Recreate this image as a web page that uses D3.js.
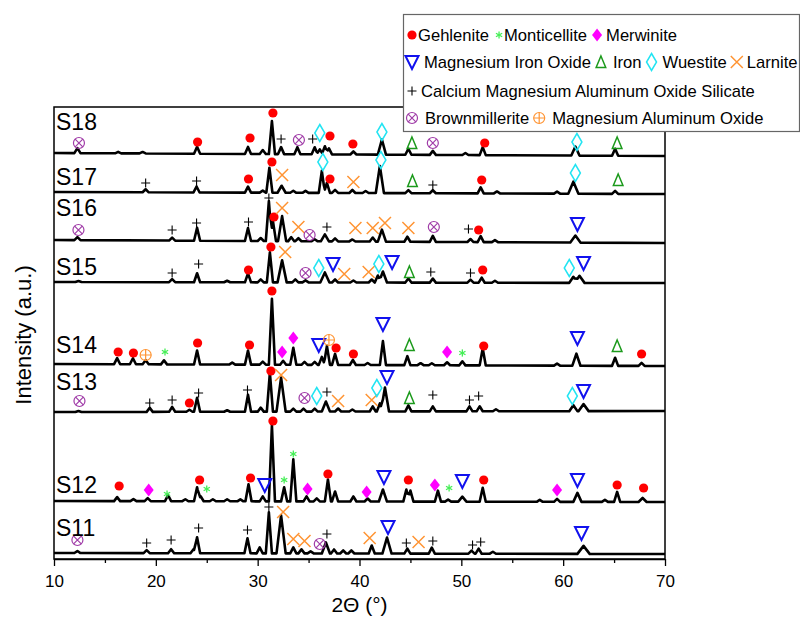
<!DOCTYPE html>
<html>
<head>
<meta charset="utf-8">
<script src="https://cdn.jsdelivr.net/npm/d3@7"></script>
<style>
body { margin: 0; background: #fff; }
svg text { font-family: "Liberation Sans", Arial, sans-serif; fill: #000; }
</style>
</head>
<body>
<svg id="chart" width="800" height="617"></svg>
<script>
// samples, bottom to top
const samples = ['S11', 'S12', 'S13', 'S14', 'S15', 'S16', 'S17', 'S18']
const baseStart = [6, 58, 147, 195, 277, 319, 367, 406]
const baseEnd = [5, 57, 148, 193, 276, 316, 365, 403]
const labelLevel = [31, 74, 177, 214, 292, 351, 382, 437]
const xTicks = [10, 20, 30, 40, 50, 60, 70]
const xMinorTicks = [15, 25, 35, 45, 55, 65]

// peaks: [2theta, height above baseline, half width]
const peaksS11 = [[12.3, 2], [19.1, 3], [21.5, 4], [23.7, 4], [24.05, 16], [29.0, 15], [30.2, 6], [31.1, 41], [32.3, 38, 0.45], [33.5, 6], [34.3, 4], [35.2, 2], [36.7, 11, 0.4], [37.5, 4], [38.4, 3], [39.2, 3], [41.2, 8], [42.7, 16, 0.45], [44.7, 5], [47.1, 6], [51.0, 3], [51.7, 5], [53.1, 2], [62.0, 8, 0.6]]
const peaksS12 = [[16.2, 4], [17.8, 2], [19.2, 3], [21.2, 6], [22.9, 2], [24.05, 14], [24.4, 5], [25.6, 2], [27.0, 2], [28.3, 2], [29.1, 17], [30.5, 5], [31.4, 76], [32.6, 14], [33.5, 42], [34.8, 5], [35.8, 3], [36.9, 22], [37.6, 10], [39.4, 5], [40.8, 3], [42.3, 12, 0.4], [44.6, 12], [45.0, 11], [47.7, 11], [48.7, 2], [50.1, 5, 0.4], [52.1, 14], [57.7, 2], [59.4, 3], [61.4, 9, 0.4], [64.1, 2], [65.3, 10], [67.8, 4, 0.4]]
const peaksS13 = [[12.4, 1], [19.4, 4], [21.6, 5], [23.3, 2], [24.05, 14], [27.0, 1.5], [29.05, 17], [30.3, 4], [31.2, 39], [32.3, 34, 0.45], [33.5, 3], [34.5, 3], [35.6, 3], [36.7, 10, 0.4], [37.9, 3], [39.3, 2], [41.3, 5], [42.0, 8], [42.5, 24, 0.4], [44.8, 6], [47.2, 5], [50.8, 5], [51.8, 5], [53.4, 2], [61.0, 6, 0.4], [62.0, 7, 0.5]]
const peaksS14 = [[16.2, 6], [17.75, 6], [19.0, 4], [20.8, 4], [24.05, 14], [27.5, 2], [29.05, 14], [30.5, 3], [31.4, 66], [32.5, 4], [33.5, 17], [34.6, 3], [35.6, 3], [36.3, 8], [36.8, 19], [37.6, 11], [39.35, 5], [40.8, 2], [42.3, 24], [44.7, 9], [46.0, 2], [47.1, 2], [48.6, 3], [50.1, 4], [52.1, 17], [59.4, 2], [61.3, 12, 0.4], [65.1, 8], [67.7, 3]]
const peaksS15 = [[12.4, 1], [21.6, 3], [24.05, 9], [27.0, 1.5], [29.05, 9], [30.3, 3], [31.2, 30], [32.4, 22, 0.45], [33.7, 3], [34.7, 2], [36.6, 10, 0.45], [37.6, 3], [39.4, 2], [41.2, 3], [41.8, 7], [42.3, 11, 0.4], [44.8, 4], [47.2, 4], [50.9, 3], [52.0, 5], [53.3, 2], [61.0, 6, 0.4], [61.6, 7, 0.5]]
const peaksS16 = [[12.3, 3], [21.6, 3], [24.05, 13], [29.05, 13], [30.3, 3], [31.1, 40], [31.5, 20], [32.4, 25, 0.4], [33.3, 4], [34.0, 3], [35.6, 2], [36.6, 7, 0.4], [37.6, 3], [39.3, 2], [41.3, 4], [42.2, 12, 0.4], [44.7, 5], [47.2, 6], [50.9, 3], [51.9, 6], [53.3, 2], [61.2, 7, 0.5]]
const peaksS17 = [[19.0, 3], [24.0, 6], [29.05, 6], [30.5, 2], [31.15, 25], [32.35, 7, 0.4], [33.5, 2], [34.7, 2], [36.3, 22], [36.8, 10], [37.6, 3], [39.3, 3], [40.6, 2], [42.0, 27, 0.4], [44.8, 3], [47.2, 3], [51.9, 6], [53.5, 2], [59.4, 2], [61.0, 12, 0.5], [65.1, 3]]
const peaksS18 = [[12.3, 5], [16.3, 1.5], [18.7, 1.5], [24.05, 7], [29.05, 7], [30.5, 4], [31.4, 33], [32.3, 7], [33.9, 7], [35.6, 7], [36.1, 5], [36.6, 8], [37.0, 6], [39.4, 3], [42.2, 15, 0.4], [44.8, 6], [47.2, 4], [50.4, 2], [52.1, 8], [61.2, 9, 0.4], [65.1, 7]]

// phase marks: [phase, 2theta, intensity level]
const marksS11 = [['B', 12.3, 19], ['C', 19.1, 16], ['C', 21.5, 19], ['C', 24.2, 31], ['C', 29.0, 29], ['C', 31.1, 52], ['L', 32.5, 47], ['L', 33.5, 20], ['L', 34.6, 18], ['B', 36.1, 15], ['C', 36.8, 25], ['L', 41.0, 21], ['MIO', 42.8, 32], ['C', 44.6, 16], ['L', 45.8, 17], ['C', 47.2, 18], ['C', 51.1, 14], ['C', 51.9, 17], ['MIO', 61.8, 26]]
const marksS12 = [['G', 16.4, 73], ['Me', 19.3, 69], ['Mo', 21.1, 65], ['G', 24.3, 79], ['Mo', 25.0, 70], ['G', 29.3, 81], ['MIO', 30.7, 74], ['G', 31.5, 138], ['Mo', 32.6, 79], ['Mo', 33.5, 105], ['Me', 34.9, 70], ['G', 36.9, 85], ['Me', 40.7, 67], ['MIO', 42.4, 82], ['G', 44.8, 79], ['Me', 47.4, 74], ['Mo', 48.8, 71], ['MIO', 50.1, 78], ['G', 52.2, 79], ['Me', 59.4, 69], ['MIO', 61.4, 79], ['G', 65.3, 74], ['G', 67.9, 71]]
const marksS13 = [['B', 12.5, 158], ['C', 19.4, 156], ['C', 21.6, 159], ['G', 23.3, 156], ['C', 24.2, 166], ['C', 29.0, 169], ['G', 31.3, 188], ['L', 32.3, 184], ['B', 34.6, 161], ['W', 35.8, 163], ['C', 36.8, 167], ['L', 37.9, 158], ['L', 41.2, 159], ['W', 41.7, 171], ['MIO', 42.7, 182], ['Fe', 44.9, 161], ['C', 47.2, 164], ['C', 50.8, 159], ['C', 51.7, 163], ['W', 60.9, 163], ['MIO', 62.0, 168]]
const marksS14 = [['G', 16.3, 207], ['G', 17.8, 206], ['MAO', 19.0, 204], ['Mo', 20.9, 207], ['G', 24.1, 216], ['G', 29.2, 214], ['G', 31.4, 268], ['Me', 32.4, 207], ['Me', 33.5, 221], ['MIO', 36.0, 214], ['MAO', 37.0, 219], ['G', 37.7, 211], ['G', 39.4, 205], ['MIO', 42.3, 235], ['Fe', 44.9, 214], ['Me', 48.6, 207], ['Mo', 50.1, 206], ['G', 52.2, 213], ['MIO', 61.4, 221], ['Fe', 65.3, 213], ['G', 67.7, 205]]
const marksS15 = [['C', 21.6, 286], ['C', 24.2, 295], ['G', 29.1, 289], ['G', 31.3, 312], ['L', 32.7, 307], ['B', 34.7, 286], ['W', 36.0, 291], ['MIO', 37.4, 295], ['L', 38.5, 285], ['L', 40.9, 287], ['W', 41.9, 295], ['MIO', 43.2, 297], ['Fe', 44.9, 287], ['C', 47.0, 287], ['C', 50.9, 286], ['G', 52.1, 289], ['W', 60.6, 291], ['MIO', 62.0, 296]]
const marksS16 = [['B', 12.4, 329], ['C', 21.6, 329], ['C', 24.0, 336], ['C', 29.1, 337], ['C', 31.1, 361], ['G', 31.6, 342], ['L', 32.4, 351], ['L', 34.0, 332], ['B', 35.1, 324], ['C', 36.8, 332], ['L', 39.6, 331], ['L', 41.3, 331], ['L', 42.5, 336], ['L', 44.8, 331], ['B', 47.3, 332], ['C', 50.7, 330], ['G', 51.7, 329], ['MIO', 61.4, 335]]
const marksS17 = [['C', 19.0, 376], ['C', 24.0, 378], ['G', 29.1, 380], ['G', 31.4, 397], ['L', 32.4, 384], ['W', 36.4, 397], ['G', 37.1, 380], ['L', 39.4, 377], ['W', 42.1, 399], ['Fe', 45.2, 378], ['C', 47.2, 374], ['G', 52.0, 379], ['W', 61.2, 386], ['Fe', 65.4, 379]]
const marksS18 = [['B', 12.45, 416], ['G', 24.1, 417], ['G', 29.25, 421], ['G', 31.5, 446], ['C', 32.3, 420], ['B', 34.05, 419], ['C', 35.4, 420], ['W', 36.1, 426], ['G', 37.1, 423], ['G', 39.35, 415], ['W', 42.2, 427], ['Fe', 45.15, 416], ['B', 47.2, 416], ['G', 52.3, 416], ['W', 61.35, 417], ['Fe', 65.3, 416]]

// legend rows
const legendRow1 = [['G', 'Gehlenite'], ['Mo', 'Monticellite'], ['Me', 'Merwinite']]
const legendRow2 = [['MIO', 'Magnesium Iron Oxide'], ['Fe', 'Iron'], ['W', 'Wuestite'], ['L', 'Larnite']]
const legendRow3 = [['C', 'Calcium Magnesium Aluminum Oxide Silicate']]
const legendRow4 = [['B', 'Brownmillerite'], ['MAO', 'Magnesium Aluminum Oxide']]

const peakSets = [peaksS11, peaksS12, peaksS13, peaksS14, peaksS15, peaksS16, peaksS17, peaksS18]
const markSets = [marksS11, marksS12, marksS13, marksS14, marksS15, marksS16, marksS17, marksS18]

// layout
const svg = d3.select('#chart')
const plot = { left: 54, right: 665, top: 107, bottom: 559 }
const x = d3.scaleLinear().domain([10, 70]).range([plot.left, plot.right])
const y = d3.scaleLinear().domain([0, 452]).range([plot.bottom, plot.top])

// marker glyphs
const drawSymbol = (g, type) => {
    switch (type) {
        case 'G':
            g.append('circle').attr('r', 4.6).attr('fill', '#ff0000')
            break
        case 'Mo':
            [90, 30, -30].forEach(a => {
                const r = a * Math.PI / 180
                g.append('line')
                    .attr('x1', -3.6 * Math.cos(r)).attr('y1', -3.6 * Math.sin(r))
                    .attr('x2', 3.6 * Math.cos(r)).attr('y2', 3.6 * Math.sin(r))
                    .attr('stroke', '#44ee55').attr('stroke-width', 1.3)
            })
            break
        case 'Me':
            g.append('path').attr('d', 'M0,-6.5L5,0L0,6.5L-5,0Z').attr('fill', '#ff00ff')
            break
        case 'MIO':
            g.append('path').attr('d', 'M-6.5,-6L6.5,-6L0,7Z')
                .attr('fill', 'none').attr('stroke', '#1111ee').attr('stroke-width', 2)
            break
        case 'Fe':
            g.append('path').attr('d', 'M0,-6L4.8,5.5L-4.8,5.5Z')
                .attr('fill', 'none').attr('stroke', '#1c9a1c').attr('stroke-width', 1.5)
            break
        case 'W':
            g.append('path').attr('d', 'M0,-8.5L5,0L0,8.5L-5,0Z')
                .attr('fill', 'none').attr('stroke', '#22e4f2').attr('stroke-width', 1.5)
            break
        case 'L':
            g.append('path').attr('d', 'M-6,-6L6,6M-6,6L6,-6')
                .attr('fill', 'none').attr('stroke', '#ff9433').attr('stroke-width', 1.5)
            break
        case 'C':
            g.append('path').attr('d', 'M-4.5,0L4.5,0M0,-4.5L0,4.5')
                .attr('fill', 'none').attr('stroke', '#000').attr('stroke-width', 1.1)
            break
        case 'B':
            g.append('circle').attr('r', 5.5)
                .attr('fill', 'none').attr('stroke', '#a03ca8').attr('stroke-width', 1.2)
            g.append('path').attr('d', 'M-3.8,-3.8L3.8,3.8M-3.8,3.8L3.8,-3.8')
                .attr('stroke', '#a03ca8').attr('stroke-width', 1.2)
            break
        case 'MAO':
            g.append('circle').attr('r', 5.5)
                .attr('fill', 'none').attr('stroke', '#ff9433').attr('stroke-width', 1.2)
            g.append('path').attr('d', 'M-5.5,0L5.5,0M0,-5.5L0,5.5')
                .attr('stroke', '#ff9433').attr('stroke-width', 1.2)
            break
    }
}

// profile of one pattern: sloped baseline + triangular peaks
const uniqSorted = arr => Array.from(new Set(arr.filter(t => t >= 10 && t <= 70))).sort((a, b) => a - b)
const profile = (peaks, b0, b1) => {
    const full = peaks.map(p => [p[0], p[1], p[2] || 0.3])
    const xs = uniqSorted([10, 70, ...full.flatMap(p => [p[0] - p[2], p[0], p[0] + p[2]])])
    return xs.map(t => {
        let v = b0 + (b1 - b0) * (t - 10) / 60
        full.forEach(([c, h, w]) => { v += h * Math.max(0, 1 - Math.abs(t - c) / w) })
        return [t, v]
    })
}

const line = d3.line().x(d => x(d[0])).y(d => y(d[1]))

// traces
const traces = svg.append('g')
samples.forEach((s, i) => {
    traces.append('path')
        .datum(profile(peakSets[i], baseStart[i], baseEnd[i]))
        .attr('d', line)
        .attr('fill', 'none')
        .attr('stroke', '#000')
        .attr('stroke-width', 2.6)
        .attr('stroke-linejoin', 'round')
})

// phase markers
const marks = svg.append('g')
markSets.forEach(set => {
    set.forEach(([type, t, v]) => {
        drawSymbol(marks.append('g').attr('transform', `translate(${x(t)},${y(v)})`), type)
    })
})

// sample labels
svg.append('g')
    .selectAll('text')
    .data(samples)
    .enter()
    .append('text')
    .attr('x', plot.left + 2)
    .attr('y', (d, i) => y(labelLevel[i]))
    .attr('dy', '0.36em')
    .attr('font-size', 23)
    .text(d => d)

// frame
svg.append('rect')
    .attr('x', plot.left).attr('y', plot.top)
    .attr('width', plot.right - plot.left).attr('height', plot.bottom - plot.top)
    .attr('fill', 'none').attr('stroke', '#000').attr('stroke-width', 1.5)

// x axis
const xAxis = svg.append('g')
    .attr('transform', `translate(0,${plot.bottom})`)
    .call(d3.axisBottom(x).tickValues(xTicks).tickSize(7).tickSizeOuter(0).tickPadding(9))
xAxis.select('.domain').attr('stroke-width', 1.5)
xAxis.selectAll('.tick line').attr('stroke-width', 1.3)
xAxis.selectAll('text').attr('font-size', 17).attr('font-family', '"Liberation Sans", Arial, sans-serif')
const xMinor = svg.append('g')
    .attr('transform', `translate(0,${plot.bottom})`)
    .call(d3.axisBottom(x).tickValues(xMinorTicks).tickSize(4).tickFormat(''))
xMinor.select('.domain').remove()
xMinor.selectAll('.tick line').attr('stroke-width', 1.3)

// axis titles
svg.append('text')
    .attr('x', (plot.left + plot.right) / 2)
    .attr('y', 612)
    .attr('text-anchor', 'middle')
    .attr('font-size', 21)
    .text('2\u0398 (\u00b0)')
svg.append('text')
    .attr('transform', `translate(31,${(plot.top + plot.bottom) / 2 + 2}) rotate(-90)`)
    .attr('text-anchor', 'middle')
    .attr('font-size', 22)
    .text('Intensity (a.u.)')

// legend
const legend = svg.append('g')
legend.append('rect')
    .attr('x', 403.5).attr('y', 14.5).attr('width', 396).attr('height', 117)
    .attr('fill', '#fff').attr('stroke', '#666').attr('stroke-width', 1.2)
const legendRows = [legendRow1, legendRow2, legendRow3, legendRow4]
const rowBaselines = [41, 68, 97, 124]
const symbolGap = { G: 6, Mo: 5, Me: 9, MIO: 12, Fe: 12, W: 11, L: 10, C: 9, B: 13, MAO: 13 }
legendRows.forEach((row, r) => {
    let cx = 412
    row.forEach(([type, label]) => {
        const sg = legend.append('g').attr('transform', `translate(${cx},${rowBaselines[r] - 6})`)
        drawSymbol(sg, type)
        const t = legend.append('text')
            .attr('x', cx + symbolGap[type])
            .attr('y', rowBaselines[r])
            .attr('font-size', 16.6)
            .text(label)
        cx = cx + symbolGap[type] + t.node().getComputedTextLength() + 10
    })
})
</script>
</body>
</html>
